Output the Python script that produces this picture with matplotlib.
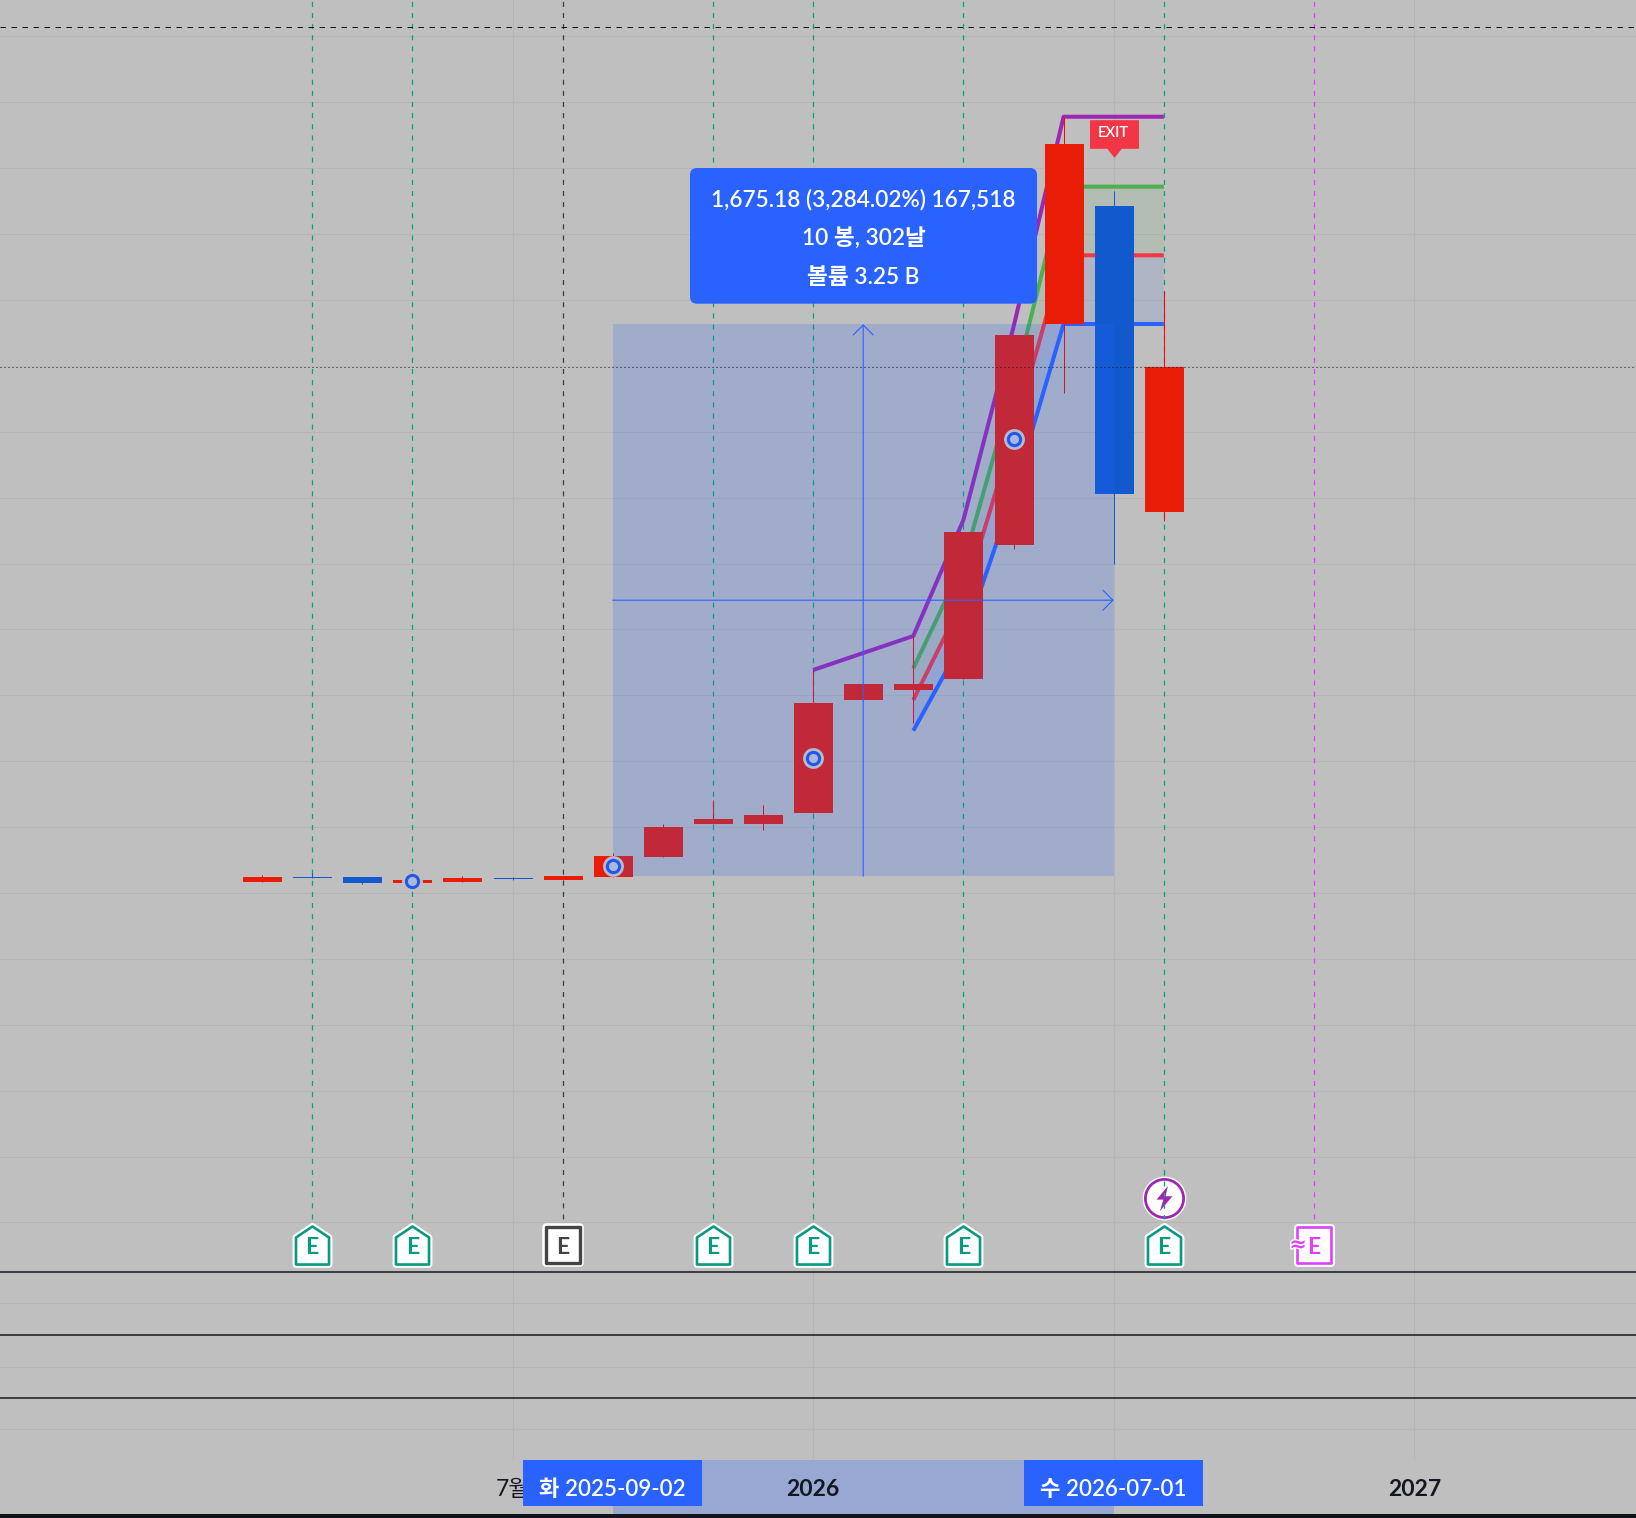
import matplotlib
matplotlib.use('Agg')
import matplotlib.pyplot as plt
import matplotlib.patheffects as pe
from matplotlib.markers import MarkerStyle
from matplotlib.patches import FancyBboxPatch, Rectangle
from matplotlib.path import Path
from matplotlib.transforms import Affine2D

W, H = 1636, 1518
plt.rcParams['font.family'] = ['Lato', 'Noto Sans CJK KR', 'DejaVu Sans']

# candles, one per bar
opens = [33.4, 48.5, 48.6, 30.4, 33.4, 45.5, 39.5, 48.6, 109.3, 209.4, 209.4, 242.8, 585.8, 616.1, 649.5, 1057, 1726.9, 2085, 1156.3]
closes = [48.6, 45.5, 30.4, 39.5, 45.5, 42.5, 51.6, 112.3, 200.3, 224.6, 236.7, 576.7, 634.3, 634.3, 1095.6, 1693.5, 2273.2, 1211, 1595.5]
highs = [54.6, 59.7, 48.6, 39.5, 51.6, 48.6, 51.6, 121.4, 209.4, 281, 265.6, 676.8, 634.3, 780, 1095.6, 1693.5, 2355, 2131.5, 1828]
lows = [33.4, 45.5, 27.3, 30.4, 33.4, 39.5, 39.5, 48.6, 109.3, 209.4, 189.7, 242.8, 585.8, 516, 649.5, 1044, 1516.6, 997, 1130]

# stepped levels
purple_x = [11, 13, 14, 15, 16, 18]
purple_y = [676.8, 780, 1132, 1717.8, 2356, 2356]
level_x = [13, 14, 15, 16, 18]
green_y = [682, 1001.6, 1535.7, 2143.7, 2143.7]
pink_y = [585.8, 892.3, 1396, 1935.4, 1935.4]
blue_y = [492.6, 767.9, 1212.5, 1726.9, 1726.9]

# markers and events
ring_x = [3, 7, 11, 15]
ring_y = [35.5, 81, 408.8, 1377]
ring_halo = ['#bfbfbf', '#b4bbd0', '#b4bbd0', '#b4bbd0']
earn_x = [1, 3, 9, 11, 14, 18]
past_x = [6]
future_x = [21]
event_y = -1068
bolt_x = 18
bolt_y = -926

# measure box
box_x0, box_x1 = 7, 17
box_start, box_end = 51.01, 1726.19
box_text = ['1,675.18 (3,284.02%) 167,518', '10 봉, 302날', '볼륨 3.25 B']

grid_prices = list(range(-1000, 2800, 200))
grid_bars = [5, 11, 17, 23]
tick_labels = [(5, '7월', 'normal'), (11, '2026', 'bold'), (23, '2027', 'bold')]
date_labels = [(7, '화 2025-09-02'), (17, '수 2026-07-01')]
top_line = 2629.5
last_close = 1595.5

BG = '#bfbfbf'
GRID = '#b5b5b5'
RED = '#e91c07'
BLUE = '#1159cc'
ACCENT = '#2962ff'
TEAL = '#08a07f'
MAGENTA = '#e040fb'

fig = plt.figure(figsize=(W / 100, H / 100), dpi=100, facecolor=BG)
ax = fig.add_axes([0, 0, 1, 1], facecolor=BG)
ax.set_xlim(-262.0 / 50.1, (W - 262.0) / 50.1)
ax.set_ylim((893 - H) * 3.035, 893 * 3.035)
ax.axis('off')

px = Affine2D().scale(1, -1).translate(0, H)  # picture pixels, y down
xt = ax.get_xaxis_transform()
bar_shift = 0.5 / 50.1
event_style = dict(lw=0.9, dashes=(4, 4.9), zorder=2)


def yf(py):
    return 1 - py / H


# grid
for g in grid_prices:
    ax.axhline(g, color=GRID, lw=0.72, zorder=1)
for gy in [1303, 1366.7, 1429.3]:
    ax.plot([0, 1], [yf(gy)] * 2, transform=ax.transAxes, color=GRID, lw=0.72, zorder=1)
for g in grid_bars:
    ax.plot([g, g], [yf(1460), 1], transform=xt, color=GRID, lw=0.72, zorder=1)

# event lines
for x in earn_x:
    ax.plot([x, x], [yf(1219), 1], transform=xt, color=TEAL, **event_style)
for x in past_x:
    ax.plot([x, x], [yf(1219), 1], transform=xt, color='#3c3c3c', **event_style)
for x in future_x:
    ax.plot([x, x], [yf(1219), 1], transform=xt, color=MAGENTA, **event_style)
ax.axhline(top_line, color='#111111', lw=0.72, dashes=(5.5, 5.5), zorder=2)
ax.axhline(last_close, color='#111111', lw=0.72, dashes=(1, 3), zorder=6)

# levels
ax.fill_between(level_x, pink_y, green_y, color='#4caf50', alpha=0.1, lw=0, zorder=2)
ax.fill_between(level_x, blue_y, pink_y, color=ACCENT, alpha=0.1, lw=0, zorder=2)
ax.plot(purple_x, purple_y, color='#9c27b0', lw=2.9, solid_capstyle='butt', zorder=3)
ax.plot(level_x, green_y, color='#4caf50', lw=2.9, solid_capstyle='butt', zorder=3)
ax.plot(level_x, pink_y, color='#f23645', lw=2.9, solid_capstyle='butt', zorder=3)
ax.plot(level_x, blue_y, color=ACCENT, lw=2.9, solid_capstyle='butt', zorder=3)

# candles
for i in range(len(opens)):
    up = closes[i] >= opens[i]
    ax.vlines(i, lows[i], highs[i], color='#ff0000' if up else BLUE, lw=0.72, zorder=4)
    ax.bar(i + bar_shift, abs(closes[i] - opens[i]), bottom=min(opens[i], closes[i]), width=39 / 50.1,
           color=RED if up else BLUE, linewidth=0, zorder=4)

# measure box goes over the candles
ax.add_patch(Rectangle((box_x0, box_start), box_x1 - box_x0, box_end - box_start,
                       facecolor=ACCENT, alpha=0.2, lw=0, zorder=5))
box_mid_x = (box_x0 + box_x1) / 2
box_mid_y = (box_start + box_end) / 2
arrow = dict(arrowstyle='->,head_length=1,head_width=1', mutation_scale=7.2, color=ACCENT, lw=0.8,
             shrinkA=0, shrinkB=0)
ax.annotate('', xy=(box_mid_x, box_end), xytext=(box_mid_x, box_start), arrowprops=arrow, zorder=6)
ax.annotate('', xy=(box_x1, box_mid_y), xytext=(box_x0, box_mid_y), arrowprops=arrow, zorder=6)

# ring markers
for x, y, c in zip(ring_x, ring_y, ring_halo):
    ax.plot([x], [y], 'o', ms=15, mfc=c, mec='none', zorder=7)
    ax.plot([x], [y], 'o', ms=8.8, mfc='#a8b8e0', mec='#2258e8', mew=2.2, zorder=8)

# EXIT flag
exit_path = Path([(-24.5, 14), (24.5, 14), (24.5, -14), (7, -14), (0, -23), (-7, -14), (-24.5, -14), (-24.5, 14)], closed=True)
ax.plot([17], [2305], marker=MarkerStyle(exit_path, joinstyle='round'), ms=34.3, mfc='#f23645', mec='#f23645',
        mew=1, zorder=9)
ax.annotate('EXIT', (17, 2305), xytext=(0, 1), textcoords='offset pixels', ha='center', va='center', color='white',
            fontsize=10.5, fontweight=600, zorder=10)

# earnings flags
home = Path([(-16.5, -19), (16.5, -19), (16.5, 8), (0, 19), (-16.5, 8), (-16.5, -19)], closed=True)
square = Path([(-17, -18), (17, -18), (17, 18), (-17, 18), (-17, -18)], closed=True)
bolt = Path([(3, 11), (-7, -1), (-1, -1), (-4, -11), (7, 2), (1, 2), (3, 11)], closed=True)


def flag(x, path, ms, col, mew):
    st = MarkerStyle(path, joinstyle='round')
    ax.plot([x], [event_y], marker=st, ms=ms, mfc='white', mec='white', mew=mew + 3, zorder=9)
    ax.plot([x], [event_y], marker=st, ms=ms, mfc='white', mec=col, mew=mew, zorder=9)
    ax.annotate('E', (x, event_y), xytext=(0, -3), textcoords='offset pixels', ha='center', va='center',
                color=col, fontsize=16.5, fontweight='bold', zorder=10)


for x in earn_x:
    flag(x, home, 27.4, '#089981', 1.9)
for x in past_x:
    flag(x, square, 26, '#444444', 2.4)
for x in future_x:
    flag(x, square, 26, MAGENTA, 1.9)
    ax.annotate('≈', (x, event_y), xytext=(-16, 0), textcoords='offset pixels', ha='center', va='center',
                color=MAGENTA, fontsize=15, fontweight='bold', family='DejaVu Sans', zorder=11,
                path_effects=[pe.withStroke(linewidth=2, foreground='white')])

# bolt badge, the event line shows through
ax.plot([bolt_x], [bolt_y], 'o', ms=30, mfc='white', mec='white', mew=1.5, zorder=9)
ax.plot([bolt_x], [bolt_y], 'o', ms=27.5, mfc='white', mec='#9c27b0', mew=2, zorder=9)
ax.plot([bolt_x], [bolt_y], marker=bolt, ms=18, mfc='#9c27b0', mec='none', zorder=10)
ax.plot([bolt_x, bolt_x], [yf(1170), yf(1219)], transform=xt, color=TEAL, lw=0.9, dashes=(4, 4.9), zorder=11)

# panes below the chart
for py in [1272, 1334.7, 1398]:
    ax.plot([0, 1], [yf(py)] * 2, transform=ax.transAxes, color='#22252c', lw=1.2, zorder=12)

# time axis
ax.add_patch(Rectangle((0, yf(1514)), 1, 54 / H, transform=ax.transAxes, facecolor=BG, lw=0, zorder=12))
ax.add_patch(Rectangle((0, yf(1518)), 1, 4 / H, transform=ax.transAxes, facecolor='#111418', lw=0, zorder=12))
ax.add_patch(Rectangle((box_x0, yf(1514)), box_x1 - box_x0, 54 / H, transform=xt, facecolor='#98a8d3', lw=0, zorder=13))
for x, label, weight in tick_labels:
    ax.text(x, yf(1489), label, transform=xt, ha='center', va='center', fontsize=16.5, fontweight=weight,
            color='#131722', zorder=14)
for x, label in date_labels:
    x_px = ax.transData.transform((x, 0))[0]
    ax.add_patch(Rectangle((x_px - 89.5, 1460), 179, 45.7, transform=px, facecolor=ACCENT, lw=0, zorder=15))
    ax.text(x, yf(1489), label, transform=xt, ha='center', va='center', fontsize=16, fontweight=600,
            color='white', zorder=16)

# measure label
ax.add_patch(FancyBboxPatch((690, 168), 347, 135.7, boxstyle='round,pad=0,rounding_size=7', transform=px,
                            facecolor=ACCENT, lw=0, zorder=15))
for py, line in zip([199.3, 238, 277.3], box_text):
    ax.text(863.5, py, line, transform=px, ha='center', va='center', fontsize=16.3, fontweight=600,
            color='white', zorder=16)

fig.savefig('out.png', dpi=100, facecolor=BG)
